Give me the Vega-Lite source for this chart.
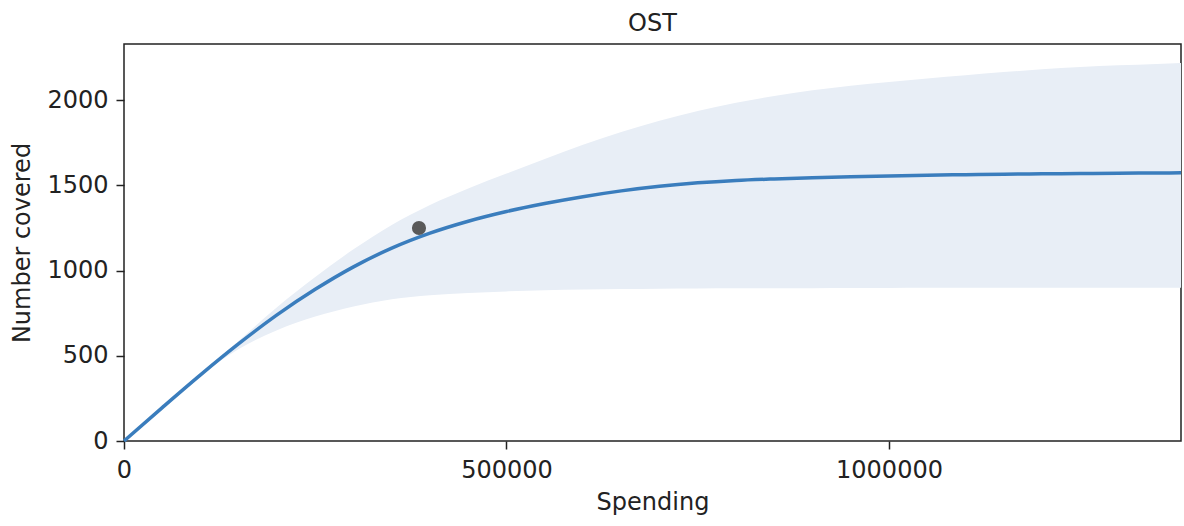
{
  "$schema": "https://vega.github.io/schema/vega-lite/v6.json",
  "width": 1057,
  "height": 397,
  "autosize": {"type": "none"},
  "padding": {"left": 124, "top": 44, "right": 3, "bottom": 85},
  "background": "white",
  "title": {"text": "OST", "fontSize": 24, "font": "DejaVu Sans", "fontWeight": "normal", "color": "#222222", "baseline": "alphabetic", "offset": 14, "dy": 25},
  "config": {
    "view": {"stroke": "#222222", "strokeWidth": 1.5},
    "axis": {
      "domain": false,
      "grid": false,
      "tickColor": "#222222",
      "tickWidth": 1.5,
      "tickSize": 8,
      "labelFont": "DejaVu Sans",
      "labelFontSize": 24,
      "labelColor": "#222222",
      "titleFont": "DejaVu Sans",
      "titleFontSize": 24,
      "titleFontWeight": "normal",
      "titleColor": "#222222"
    }
  },
  "datasets": {
    "curve": [
      {"spending": 0, "mean": 0, "lower": 0, "upper": 0},
      {"spending": 50000, "mean": 196, "lower": 196, "upper": 196},
      {"spending": 100000, "mean": 388, "lower": 386, "upper": 390},
      {"spending": 150000, "mean": 571, "lower": 540, "upper": 588},
      {"spending": 200000, "mean": 740, "lower": 650, "upper": 785},
      {"spending": 250000, "mean": 890, "lower": 730, "upper": 962},
      {"spending": 300000, "mean": 1022, "lower": 790, "upper": 1125},
      {"spending": 350000, "mean": 1132, "lower": 832, "upper": 1268},
      {"spending": 400000, "mean": 1220, "lower": 855, "upper": 1385},
      {"spending": 450000, "mean": 1290, "lower": 868, "upper": 1482},
      {"spending": 500000, "mean": 1347, "lower": 878, "upper": 1570},
      {"spending": 550000, "mean": 1394, "lower": 885, "upper": 1655},
      {"spending": 600000, "mean": 1434, "lower": 889, "upper": 1738},
      {"spending": 650000, "mean": 1468, "lower": 892, "upper": 1814},
      {"spending": 700000, "mean": 1495, "lower": 894, "upper": 1880},
      {"spending": 750000, "mean": 1515, "lower": 895, "upper": 1937},
      {"spending": 800000, "mean": 1529, "lower": 896, "upper": 1985},
      {"spending": 850000, "mean": 1538, "lower": 897, "upper": 2025},
      {"spending": 900000, "mean": 1545, "lower": 897, "upper": 2058},
      {"spending": 950000, "mean": 1551, "lower": 898, "upper": 2085},
      {"spending": 1000000, "mean": 1556, "lower": 898, "upper": 2107},
      {"spending": 1050000, "mean": 1560, "lower": 899, "upper": 2128},
      {"spending": 1100000, "mean": 1563, "lower": 899, "upper": 2147},
      {"spending": 1150000, "mean": 1566, "lower": 899, "upper": 2165},
      {"spending": 1200000, "mean": 1568, "lower": 900, "upper": 2182},
      {"spending": 1250000, "mean": 1570, "lower": 900, "upper": 2195},
      {"spending": 1300000, "mean": 1572, "lower": 900, "upper": 2205},
      {"spending": 1350000, "mean": 1573, "lower": 900, "upper": 2213},
      {"spending": 1381700, "mean": 1574, "lower": 900, "upper": 2219}
    ],
    "observed": [
      {"spending": 385600, "covered": 1250}
    ]
  },
  "layer": [
    {
      "data": {"name": "curve"},
      "mark": {"type": "area", "color": "#e8eef6", "interpolate": "monotone", "opacity": 1},
      "encoding": {
        "x": {"field": "spending", "type": "quantitative", "title": "Spending",
              "scale": {"domain": [0, 1381700], "nice": false, "zero": false},
              "axis": {"values": [0, 500000, 1000000], "format": "d", "labelPadding": 9, "titlePadding": 8, "labelFlush": false}},
        "y": {"field": "lower", "type": "quantitative", "title": "Number covered",
              "scale": {"domain": [0, 2330], "nice": false},
              "axis": {"values": [0, 500, 1000, 1500, 2000], "format": "d", "labelPadding": 8, "titlePadding": 12}},
        "y2": {"field": "upper"}
      }
    },
    {
      "data": {"name": "curve"},
      "mark": {"type": "line", "color": "#3a7dbd", "strokeWidth": 3.5, "interpolate": "monotone"},
      "encoding": {
        "x": {"field": "spending", "type": "quantitative"},
        "y": {"field": "mean", "type": "quantitative"}
      }
    },
    {
      "data": {"name": "observed"},
      "mark": {"type": "point", "filled": true, "color": "#595959", "size": 200, "opacity": 1},
      "encoding": {
        "x": {"field": "spending", "type": "quantitative"},
        "y": {"field": "covered", "type": "quantitative"}
      }
    }
  ]
}
